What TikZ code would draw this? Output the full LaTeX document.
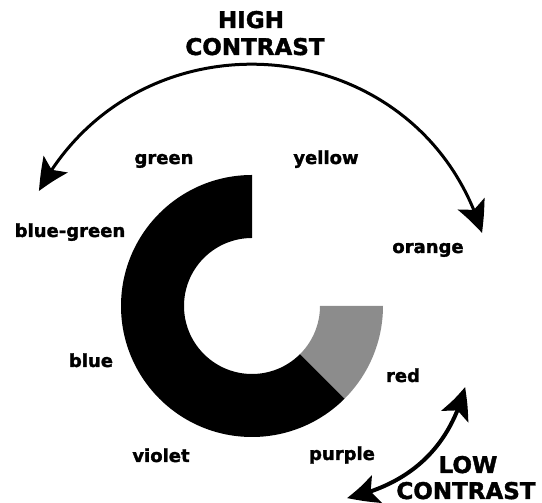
\documentclass[tikz,border=0pt]{standalone}
\usepackage{fontspec}
\setmainfont{DejaVu Sans}
\newfontfamily\heavy{DejaVu Sans Bold}[FakeBold=1.6]
\usetikzlibrary{arrows.meta,bending}
\begin{document}
\begin{tikzpicture}[x=1pt,y=1pt,
  lbl/.style={font=\heavy\fontsize{18}{20}\selectfont, inner sep=0pt, anchor=base},
  ttl/.style={font=\heavy\fontsize{23}{26}\selectfont, inner sep=0pt, anchor=base},
  harrow/.style={line width=3pt, {Stealth[length=32pt,width=29pt,inset=7pt,bend]}-{Stealth[length=32pt,width=29pt,inset=7pt,bend]}},
  larrow/.style={line width=4pt, {Stealth[length=32pt,width=29pt,inset=7pt,bend]}-{Stealth[length=32pt,width=29pt,inset=7pt,bend]}},
  ringfill/.style={fill=black},
  speckle/.style={fill=black!45}]
\useasboundingbox (0,0) rectangle (542,503);
% ring
\coordinate (c) at (252,197);
\fill[ringfill] (252,328) arc[start angle=90,end angle=315,radius=131] -- ++(135:63) arc[start angle=315,end angle=90,radius=68] -- cycle;
\fill[speckle] (383,197) arc[start angle=0,end angle=-45,radius=131] -- ++(135:63) arc[start angle=-45,end angle=0,radius=68] -- cycle;
% titles
\node[ttl] (high) at (251,475) {HIGH};
\node[ttl] (hcon) at (255,448) {CONTRAST};
\node[ttl] (low) at (468,30) {LOW};
\node[ttl] (lcon) at (466,4) {CONTRAST};
% colour labels
\node[lbl] (green) at (164,339) {green};
\node[lbl] (yellow) at (326,339) {yellow};
\node[lbl] (bluegreen) at (70,266) {blue-green};
\node[lbl] (orange) at (428,250) {orange};
\node[lbl] (blue) at (91,136) {blue};
\node[lbl] (red) at (403,121) {red};
\node[lbl] (violet) at (161,41) {violet};
\node[lbl] (purple) at (342,43) {purple};
% arrows
\coordinate (hl) at (39,312);
\coordinate (hr) at (482,270);
\draw[harrow] (hl) .. controls (140,499.5) and (420,473.7) .. (hr);
\coordinate (la) at (465,116);
\coordinate (lb) at (347,5);
\draw[larrow] (la) .. controls (449.7,55.7) and (410.3,18.7) .. (lb);
\end{tikzpicture}
\end{document}
